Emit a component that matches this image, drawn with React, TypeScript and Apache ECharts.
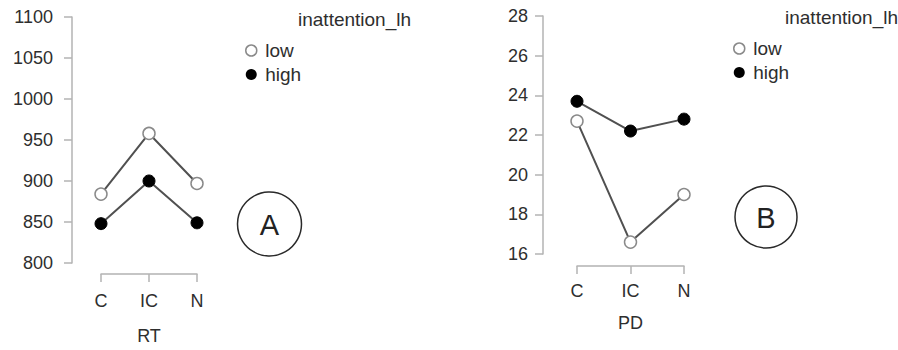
import React, { useEffect, useRef } from "react";
import * as echarts from "echarts";

const categories = ["C", "IC", "N"];
const rtLow = [884, 958, 897];
const rtHigh = [848, 900, 849];
const pdLow = [22.7, 16.6, 19.0];
const pdHigh = [23.7, 22.2, 22.8];
const groupNames = ["low", "high"];
const legendTitle = "inattention_lh";
const panelLabels = ["A", "B"];
const xNames = ["RT", "PD"];

const FONT = "Liberation Sans, Arial, Helvetica, sans-serif";
const AXIS_COLOR = "#b3b3b3";
const TEXT_COLOR = "#2e2e2e";
const LINE_COLOR = "#505050";

const lowItem = { color: "#ffffff", borderColor: "#8a8a8a", borderWidth: 1.5 };
const highItem = { color: "#000000", borderColor: "#000000", borderWidth: 1 };

function xAxisCfg(gridIndex: number, offset: number, margin: number, nameGap: number, name: string) {
  return {
    gridIndex,
    type: "category",
    data: categories,
    boundaryGap: false,
    offset,
    name,
    nameLocation: "middle",
    nameGap,
    nameTextStyle: { fontSize: 18, color: TEXT_COLOR, fontFamily: FONT },
    axisLine: { show: true, lineStyle: { color: AXIS_COLOR, width: 1.5 } },
    axisTick: { show: true, length: 8, interval: 0, lineStyle: { color: AXIS_COLOR, width: 1.5 } },
    axisLabel: { fontSize: 18, color: TEXT_COLOR, fontFamily: FONT, margin, interval: 0 },
    splitLine: { show: false },
  };
}

function yAxisCfg(gridIndex: number, min: number, max: number, interval: number, offset: number, margin: number) {
  return {
    gridIndex,
    type: "value",
    min,
    max,
    interval,
    offset,
    axisLine: { show: true, lineStyle: { color: AXIS_COLOR, width: 1.5 } },
    axisTick: { show: true, length: 8, lineStyle: { color: AXIS_COLOR, width: 1.5 } },
    axisLabel: {
      fontSize: 18,
      color: TEXT_COLOR,
      fontFamily: FONT,
      margin,
      formatter: (v: number) => String(v),
    },
    splitLine: { show: false },
  };
}

function seriesCfg(name: string, data: number[], idx: number, item: any, z: number) {
  return {
    type: "line",
    name,
    data,
    xAxisIndex: idx,
    yAxisIndex: idx,
    symbol: "circle",
    symbolSize: 12,
    itemStyle: item,
    lineStyle: { color: LINE_COLOR, width: 2 },
    z,
  };
}

function legendCfg(left: number, top: number) {
  return {
    orient: "vertical",
    left,
    top,
    padding: 0,
    itemWidth: 18,
    itemHeight: 11,
    itemGap: 5,
    textStyle: { fontSize: 19, color: TEXT_COLOR, fontFamily: FONT },
    selectedMode: false,
    data: [
      { name: groupNames[0], icon: "circle", itemStyle: { color: "#ffffff", borderColor: "#8a8a8a", borderWidth: 1.5 } },
      { name: groupNames[1], icon: "circle", itemStyle: { color: "#000000", borderColor: "#000000", borderWidth: 0 } },
    ],
  };
}

function circleLabel(cx: number, cy: number, r: number, label: string) {
  return [
    {
      type: "circle",
      shape: { cx, cy, r },
      style: { fill: "transparent", stroke: "#2a2a2a", lineWidth: 1.5 },
    },
    {
      type: "text",
      x: cx,
      y: cy + 1,
      style: {
        text: label,
        fontSize: 29,
        fontFamily: FONT,
        fill: "#222",
        align: "center",
        verticalAlign: "middle",
      },
    },
  ];
}

export default function App() {
  const ref = useRef<HTMLDivElement>(null);
  useEffect(() => {
    if (!ref.current) return;
    const chart = echarts.init(ref.current, undefined, { renderer: "svg" });
    chart.setOption({
      animation: false,
      backgroundColor: "#ffffff",
      textStyle: { fontFamily: FONT },
      title: [
        {
          text: legendTitle,
          left: 298,
          top: 10,
          padding: 0,
          textStyle: { fontSize: 19, fontWeight: "normal", color: TEXT_COLOR, fontFamily: FONT },
        },
        {
          text: legendTitle,
          left: 785,
          top: 8,
          padding: 0,
          textStyle: { fontSize: 19, fontWeight: "normal", color: TEXT_COLOR, fontFamily: FONT },
        },
      ],
      legend: [legendCfg(245, 41), legendCfg(733, 39)],
      grid: [
        { left: 101, top: 17, width: 96, height: 246, containLabel: false },
        { left: 577, top: 16, width: 107, height: 238, containLabel: false },
      ],
      xAxis: [xAxisCfg(0, 11, 18, 53, xNames[0]), xAxisCfg(1, 12, 16, 48, xNames[1])],
      yAxis: [yAxisCfg(0, 800, 1100, 50, 29, 19), yAxisCfg(1, 16, 28, 2, 34, 15)],
      series: [
        seriesCfg(groupNames[0], rtLow, 0, lowItem, 2),
        seriesCfg(groupNames[1], rtHigh, 0, highItem, 3),
        seriesCfg(groupNames[0], pdLow, 1, lowItem, 2),
        seriesCfg(groupNames[1], pdHigh, 1, highItem, 3),
      ],
      graphic: [
        ...circleLabel(269.5, 224, 32, panelLabels[0]),
        ...circleLabel(766, 217, 31, panelLabels[1]),
      ],
    });
    return () => chart.dispose();
  }, []);
  return (
    <div
      ref={ref}
      style={{ position: "fixed", left: 0, top: 0, width: 898, height: 350, background: "#fff" }}
    />
  );
}
